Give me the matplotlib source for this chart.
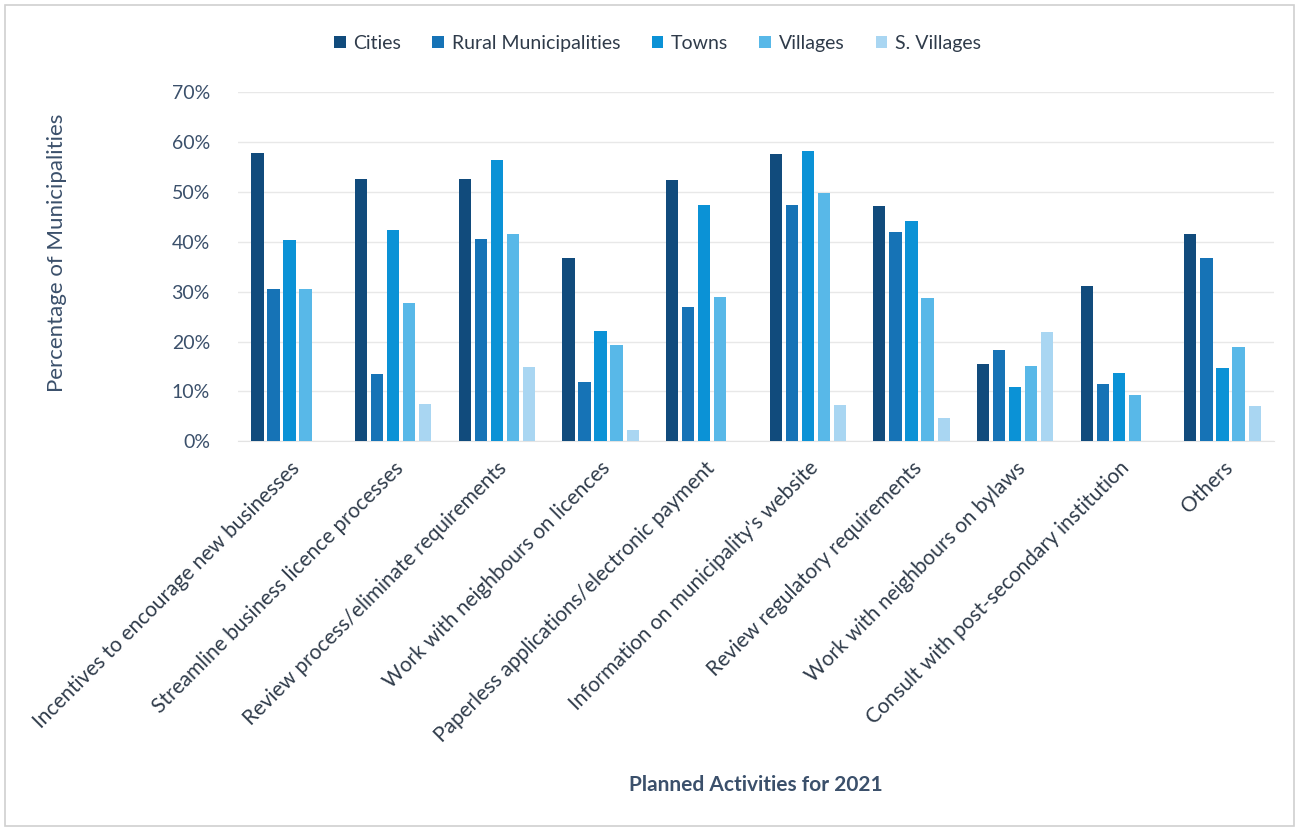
import numpy as np
import matplotlib.pyplot as plt
from matplotlib.patches import Rectangle

plt.rcParams['font.family'] = ['Lato', 'DejaVu Sans']

activities = [
    "Incentives to encourage new businesses",
    "Streamline business licence processes",
    "Review process/eliminate requirements",
    "Work with neighbours on licences",
    "Paperless applications/electronic payment",
    "Information on municipality's website",
    "Review regulatory requirements",
    "Work with neighbours on bylaws",
    "Consult with post-secondary institution",
    "Others",
]
series_names = ["Cities", "Rural Municipalities", "Towns", "Villages", "S. Villages"]

# percentage of municipalities per activity
cities = [57.8, 52.5, 52.5, 36.7, 52.4, 57.6, 47.1, 15.5, 31.2, 41.6]
rural = [30.5, 13.5, 40.6, 11.8, 26.9, 47.3, 42.0, 18.3, 11.4, 36.7]
towns = [40.3, 42.3, 56.5, 22.1, 47.3, 58.3, 44.1, 10.8, 13.7, 14.7]
villages = [30.5, 27.8, 41.5, 19.3, 28.9, 49.7, 28.8, 15.0, 9.3, 19.0]
s_villages = [0.0, 7.4, 14.9, 2.3, 0.0, 7.3, 4.7, 22.0, 0.0, 7.0]

colors = ["#114b7c", "#1673b6", "#0b92d6", "#58b8e8", "#a9d6f2"]
text_color = "#3b506b"

fig = plt.figure(figsize=(12.99, 8.31), dpi=100)
ax = fig.add_axes([0.183, 0.469, 0.798, 0.42])

x = np.arange(len(activities))
pitch = 0.155
width = 0.118
all_series = [cities, rural, towns, villages, s_villages]
for i, (name, vals) in enumerate(zip(series_names, all_series)):
    ax.bar(x + (i - 2) * pitch, vals, width=width, color=colors[i], label=name, zorder=3)

ax.set_xlim(-0.5, len(activities) - 0.5)
ax.set_ylim(0, 70)
ax.set_yticks(np.arange(0, 71, 10))
ax.set_yticklabels([f"{v}%" for v in range(0, 71, 10)], fontsize=14, color=text_color)
ax.yaxis.grid(True, color="#e8e8e8", linewidth=1, zorder=0)
ax.tick_params(axis='both', length=0)
ax.tick_params(axis='y', pad=20)
for s in ['top', 'right', 'left']:
    ax.spines[s].set_visible(False)
ax.spines['bottom'].set_color("#e3e3e3")

ax.set_xticks(x)
ax.set_xticklabels(activities, rotation=45, ha='right', rotation_mode='anchor',
                   fontsize=15, color="#2f3b4a")
ax.tick_params(axis='x', pad=12)

ax.set_ylabel("Percentage of Municipalities", fontsize=16, color=text_color)
ax.yaxis.set_label_coords(-0.165, 0.54)
fig.text(0.582, 0.055, "Planned Activities for 2021", ha='center', va='center',
         fontsize=15, fontweight='bold', color=text_color)

ax.legend(loc='center', bbox_to_anchor=(0.405, 1.14), ncol=5, frameon=False,
          fontsize=14, handlelength=0.6, handleheight=0.6, handletextpad=0.4,
          columnspacing=1.6, labelcolor="#2f3b4a")

# thin frame around the whole chart
fig.patches.append(Rectangle((0.004, 0.006), 0.992, 0.988, transform=fig.transFigure,
                             fill=False, edgecolor="#d0d0d0", linewidth=1.2))

fig.savefig("out.png", dpi=100)
